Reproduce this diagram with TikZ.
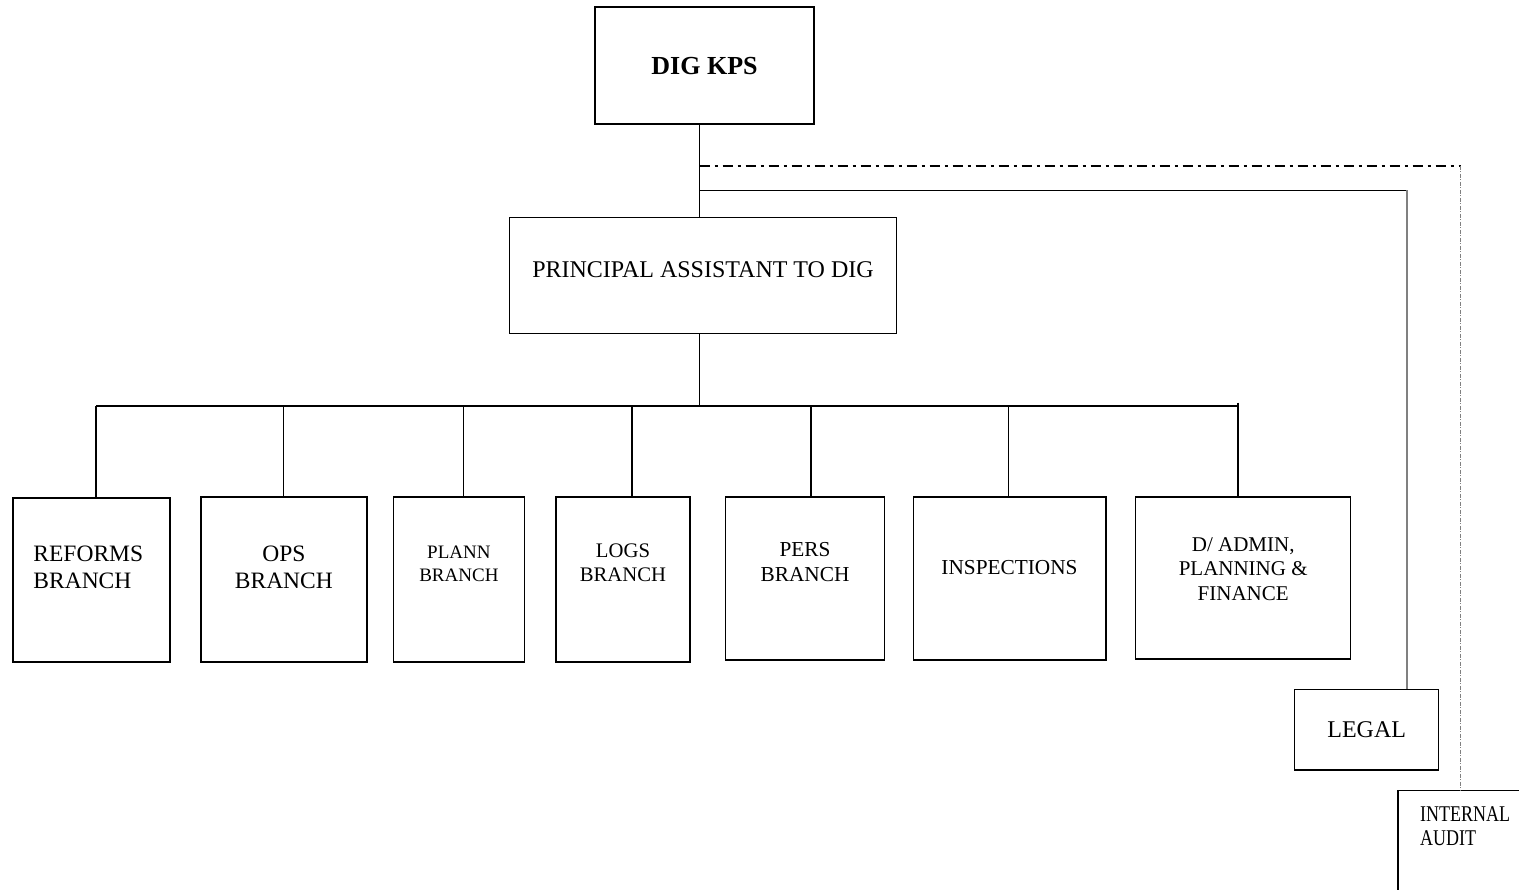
\documentclass[tikz,border=0pt]{standalone}
\usepackage{fontspec}
\setmainfont{Liberation Serif}
\newfontfamily\narrowrm[FakeStretch=0.8]{Liberation Serif}

\begin{document}
\begin{tikzpicture}[x=1pt,y=-1pt,
  box/.style={draw,line width=1.4pt,inner sep=0pt},
  txt/.style={inner sep=0pt,align=center},
  conn/.style={line width=1.1pt},
  dashdot/.style={line width=2pt,dash pattern=on 10pt off 5pt on 3pt off 5pt},
  auditline/.style={line width=0.8pt,gray,dash pattern=on 4pt off 1.5pt on 1pt off 1.5pt}]
 \useasboundingbox (0,0) rectangle (1519,890);
 \clip (0,0) rectangle (1519,890);

 % top
 \node[box,minimum width=219,minimum height=117,font=\bfseries\fontsize{26}{30}\selectfont] (dig) at (704.5,65.7) {DIG KPS};
 \node[box,minimum width=387,minimum height=116,
   label={[txt,yshift=5.3,font=\fontsize{24}{28}\selectfont]center:PRINCIPAL ASSISTANT TO DIG}] (pa) at (703,275.3) {};

 % branches
 \node[box,minimum width=157,minimum height=164,
   label={[txt,align=left,xshift=-3,yshift=12.5,font=\fontsize{23.5}{26.7}\selectfont]center:REFORMS\\BRANCH}] (reforms) at (91.3,580) {};
 \node[box,minimum width=166,minimum height=165,
   label={[txt,yshift=12.3,font=\fontsize{23.5}{26.7}\selectfont]center:OPS\\BRANCH}] (ops) at (283.9,579.5) {};
 \node[box,minimum width=131,minimum height=165,
   label={[txt,yshift=15.8,font=\fontsize{19}{23.3}\selectfont]center:PLANN\\BRANCH}] (plann) at (458.9,579.5) {};
 \node[box,minimum width=134,minimum height=165,
   label={[txt,yshift=16.5,font=\fontsize{20.7}{23.7}\selectfont]center:LOGS\\BRANCH}] (logs) at (623,579.5) {};
 \node[box,minimum width=159,minimum height=163,
   label={[txt,yshift=16.4,font=\fontsize{21.3}{25}\selectfont]center:PERS\\BRANCH}] (pers) at (805,578.5) {};
 \node[box,minimum width=192.6,minimum height=163,
   label={[txt,yshift=10.5,font=\fontsize{21.3}{25}\selectfont]center:INSPECTIONS}] (insp) at (1009.5,578.5) {};
 \node[box,minimum width=215,minimum height=162.3,
   label={[txt,yshift=9,font=\fontsize{21}{24.2}\selectfont]center:D/ ADMIN,\\PLANNING \&\\FINANCE}] (dadmin) at (1243.2,578) {};

 % side offices
 \node[box,minimum width=144,minimum height=80.7,font=\fontsize{24}{28}\selectfont] (legal) at (1366.7,729.7) {LEGAL};
 \node[box,anchor=north west,minimum width=200,minimum height=150,
   label={[txt,align=left,anchor=north west,xshift=22.7,yshift=-16.7,font=\narrowrm\fontsize{22.5}{23.3}\selectfont]north west:INTERNAL\\AUDIT}] (audit) at (1397.3,790) {};

 % lines
 \coordinate (jd) at (699.5,165.7);
 \coordinate (jl) at (699.5,190.3);
 \coordinate (jb) at (699.5,406);
 \coordinate (cd) at (1460.5,165.7);
 \coordinate (cl) at (1407,190.3);
 \coordinate (bl) at (96,406);
 \coordinate (br) at (1238,406);

 \draw[conn] (dig.south -| jb) -- (pa.north -| jb);
 \draw[conn] (pa.south -| jb) -- (jb);
 \draw[dashdot] (jd) -- (cd);
 \draw[auditline] (cd) -- (audit.north -| cd);
 \draw[conn] (jl) -- (cl);
 \draw[conn,gray] (cl) -- (legal.north -| cl);
 \draw[conn] (bl) -- (br);
 \foreach \n/\x in {reforms/96,ops/283.7,plann/463.7,logs/632,pers/811,insp/1008.9}
   \draw[conn] (\x,406) -- (\n.north -| \x,0);
 \draw[conn] (1238,402.7) -- (dadmin.north -| br);
\end{tikzpicture}
\end{document}
